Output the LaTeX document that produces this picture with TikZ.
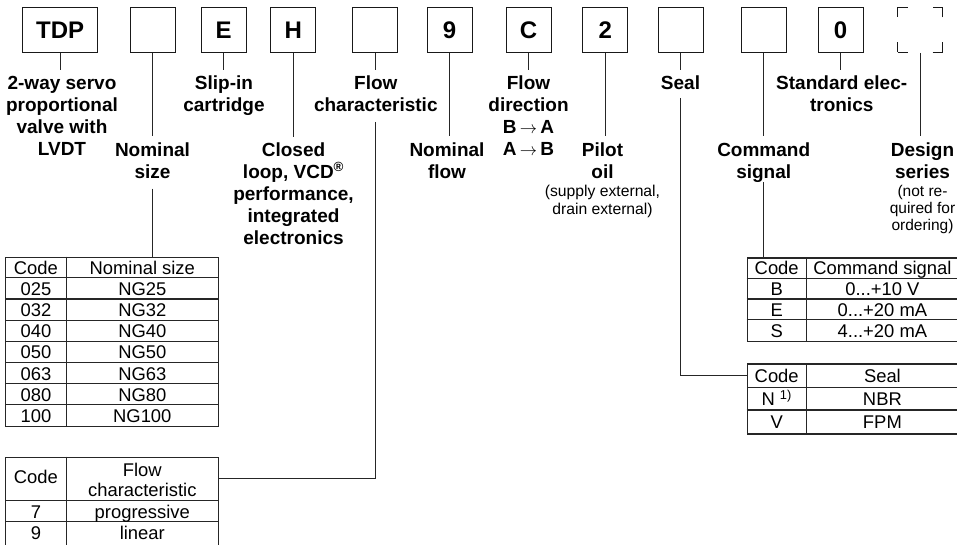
\documentclass[tikz,border=0pt]{standalone}
\usepackage{fontspec}
\setmainfont{Liberation Sans}
\begin{document}
\begin{tikzpicture}[x=1pt,y=-1pt,
  codebox/.style={draw=black!90, line width=1pt, minimum width=45pt, minimum height=45pt, inner sep=0pt, font=\fontsize{24}{28}\selectfont\bfseries},
  lbl/.style={anchor=north, inner sep=0pt, align=center, font=\fontsize{19}{22}\selectfont\bfseries},
  note/.style={anchor=north, inner sep=0pt, align=center, font=\fontsize{15.7}{18}\selectfont},
  conn/.style={draw=black!85, line width=1pt},
  tframe/.style={draw=black!85, line width=1.2pt, inner sep=0pt, anchor=north west},
  tline/.style={draw=black!85, line width=1.2pt},
  cell/.style={anchor=base, inner sep=0pt, font=\fontsize{18.4}{20.5}\selectfont}
]
\useasboundingbox (0,0) rectangle (957,545);
\clip (0,0) rectangle (957,545);

% code boxes
\node[codebox, minimum width=75pt] (b1) at (60.2,29.8) {TDP};
\node[codebox] (b2) at (152.5,29.8) {};
\node[codebox] (b3) at (223.5,29.8) {E};
\node[codebox] (b4) at (293.2,29.8) {H};
\node[codebox] (b5) at (375.2,29.8) {};
\node[codebox] (b6) at (449.5,29.8) {9};
\node[codebox] (b7) at (528.5,29.8) {C};
\node[codebox] (b8) at (605.2,29.8) {2};
\node[codebox] (b9) at (680.8,29.8) {};
\node[codebox] (b10) at (763.8,29.8) {};
\node[codebox] (b11) at (840.5,29.8) {0};
\node[codebox, dash pattern=on 10pt off 25pt on 10pt off 0pt] (b12) at (920,29.8) {};

% labels
\node[lbl] (l1) at (62,75.6) {2-way servo\\proportional\\valve with\\LVDT};
\node[lbl] (l2) at (152.5,142.3) {Nominal\\size};
\node[lbl] (l3) at (224,75.6) {Slip-in\\cartridge};
\node[lbl] (l4) at (293.5,142.3) {Closed\\loop, VCD\textsuperscript{®}\\performance,\\integrated\\electronics};
\node[lbl] (l5) at (375.8,75.6) {Flow\\characteristic};
\node[lbl] (l6) at (447,142.3) {Nominal\\flow};
\node[lbl] (l7) at (528.5,75.6) {Flow\\direction\\B\,$\rightarrow$\,A\\A\,$\rightarrow$\,B};
\node[lbl] (l8) at (602.5,142.3) {Pilot\\oil};
\node[note] (l8n) at (602.5,184.6) {(supply external,\\drain external)};
\node[lbl] (l9) at (680.5,75.6) {Seal};
\node[lbl] (l10) at (763.7,142.3) {Command\\signal};
\node[lbl] (l11) at (841.7,75.6) {Standard elec-\\tronics};
\node[lbl] (l12) at (922.5,142.3) {Design\\series};
\node[note, font=\fontsize{15.5}{16.8}\selectfont] (l12n) at (922.5,185.3) {(not re-\\quired for\\ordering)};

% box-to-label connectors
\draw[conn, shorten >=5.5pt] (b1.south) -- (b1.south |- l1.north);
\draw[conn, shorten >=6.5pt] (b2.south) -- (b2.south |- l2.north);
\draw[conn, shorten >=5.5pt] (b3.south) -- (b3.south |- l3.north);
\draw[conn, shorten >=5pt] (b4.south) -- (b4.south |- l4.north);
\draw[conn, shorten >=5.5pt] (b5.south) -- (b5.south |- l5.north);
\draw[conn, shorten >=6.5pt] (b6.south) -- (b6.south |- l6.north);
\draw[conn, shorten >=5.5pt] (b7.south) -- (b7.south |- l7.north);
\draw[conn, shorten >=6.5pt] (b8.south) -- (b8.south |- l8.north);
\draw[conn, shorten >=5.5pt] (b9.south) -- (b9.south |- l9.north);
\draw[conn, shorten >=6.5pt] (b10.south) -- (b10.south |- l10.north);
\draw[conn, shorten >=5.5pt] (b11.south) -- (b11.south |- l11.north);
\draw[conn, shorten >=6.5pt] (b12.south) -- (b12.south |- l12.north);

% table 1: nominal size
\node[tframe, minimum width=213pt, minimum height=169.3pt] (t1) at (5,256.7) {};
\draw[tline] (66.7,256.7) -- (66.7,426);
\foreach \k in {1,...,7} \draw[tline] (5,256.7+\k*21.16) -- (218,256.7+\k*21.16);
\foreach \c/\v [count=\k from 0] in {Code/Nominal size,025/NG25,032/NG32,040/NG40,050/NG50,063/NG63,080/NG80,100/NG100} {
  \node[cell] (t1c\k) at (35.9,256.7+\k*21.16+17.58) {\c};
  \node[cell] (t1v\k) at (142.3,256.7+\k*21.16+17.58) {\v};
}

% table 2: flow characteristic
\node[tframe, minimum width=213pt, minimum height=90.3pt] (t2) at (5,456.7) {};
\node[tframe, minimum width=213pt, minimum height=43.3pt] (t2h) at (5,456.7) {};
\draw[tline] (66.7,456.7) -- (66.7,547);
\draw[tline] (5,521.7) -- (218,521.7);
\node[cell] (t2c0) at (35.9,483) {Code};
\node[cell, align=center, anchor=north, font=\fontsize{18.4}{20.7}\selectfont] (t2v0) at (142.3,462.6) {Flow\\characteristic};
\node[cell] (t2c1) at (35.9,518) {7};
\node[cell] (t2v1) at (142.3,518) {progressive};
\node[cell] (t2c2) at (35.9,539.3) {9};
\node[cell] (t2v2) at (142.3,539.3) {linear};

% table 3: command signal
\node[tframe, minimum width=211.8pt, minimum height=83.4pt] (t3) at (746.7,257.3) {};
\draw[tline] (806.7,257.3) -- (806.7,340.7);
\foreach \k in {1,2,3} \draw[tline] (746.7,257.3+\k*20.85) -- (958.5,257.3+\k*20.85);
\node[cell] (t3c0) at (776.7,274.7) {Code};
\node[cell] (t3v0) at (882.4,274.7) {Command signal};
\node[cell] (t3c1) at (776.7,295.55) {B};
\node[cell] (t3v1) at (882.4,295.55) {0...+10 V};
\node[cell] (t3c2) at (776.7,316.4) {E};
\node[cell] (t3v2) at (882.4,316.4) {0...+20 mA};
\node[cell] (t3c3) at (776.7,337.25) {S};
\node[cell] (t3v3) at (882.4,337.25) {4...+20 mA};

% table 4: seal
\node[tframe, minimum width=211.8pt, minimum height=70pt] (t4) at (746.7,363.3) {};
\node[tframe, minimum width=211.8pt, minimum height=23.33pt] (t4h) at (746.7,363.3) {};
\draw[tline] (806.7,363.3) -- (806.7,433.3);
\draw[tline] (746.7,409.97) -- (958.5,409.97);
\node[cell] (t4c0) at (776.7,382) {Code};
\node[cell] (t4v0) at (882.4,382) {Seal};
\node[cell] (t4c1) at (776.7,405.33) {N \textsuperscript{1)}};
\node[cell] (t4v1) at (882.4,405.33) {NBR};
\node[cell] (t4c2) at (776.7,428.66) {V};
\node[cell] (t4v2) at (882.4,428.66) {FPM};

% label-to-table connectors
\draw[conn, shorten <=10pt] (b2.south |- l2.south) -- (b2.south |- t1.north);
\draw[conn, shorten <=10pt] (b5.south |- l5.south) -- (b5.south |- t2h.east) -- (t2h.east);
\draw[conn, shorten <=8pt] (b9.south |- l9.south) -- (b9.south |- t4h.west) -- (t4h.west);
\draw[conn] (b10.south |- l10.south) -- (b10.south |- t3.north);
\end{tikzpicture}
\end{document}
